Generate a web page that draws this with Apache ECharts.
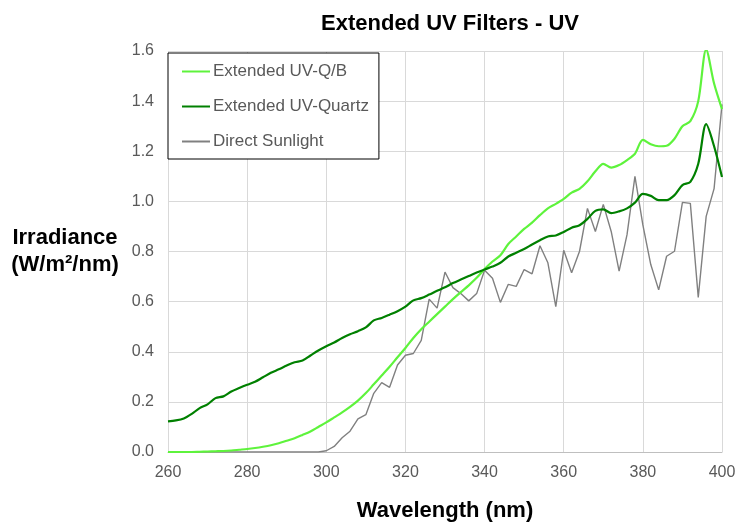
<!DOCTYPE html>
<html>
<head>
<meta charset="utf-8">
<script src="https://cdn.jsdelivr.net/npm/echarts@6/dist/echarts.min.js"></script>
<style>
html,body{margin:0;padding:0;background:#fff;}
#chart{width:741px;height:527px;}
</style>
</head>
<body>
<div id="chart"></div>
<script>
const wavelengths = [260,262,264,266,268,270,272,274,276,278,280,282,284,286,288,290,292,294,296,298,
  300,302,304,306,308,310,312,314,316,318,320,322,324,326,328,330,332,334,336,338,
  340,342,344,346,348,350,352,354,356,358,360,362,364,366,368,370,372,374,376,378,
  380,382,384,386,388,390,392,394,396,398,400];

const uvQB = [0.000,0.000,0.000,0.000,0.001,0.002,0.003,0.004,0.006,0.009,
  0.012,0.016,0.021,0.027,0.035,0.045,0.055,0.068,0.082,0.100,
  0.118,0.138,0.158,0.180,0.205,0.235,0.270,0.305,0.340,0.378,
  0.415,0.455,0.490,0.520,0.550,0.580,0.610,0.638,0.665,0.695,
  0.730,0.760,0.785,0.830,0.860,0.890,0.915,0.945,0.972,0.990,
  1.010,1.035,1.050,1.080,1.120,1.150,1.135,1.145,1.165,1.190,
  1.245,1.228,1.220,1.222,1.250,1.300,1.320,1.400,1.605,1.470,1.368];

const uvQuartz = [0.122,0.126,0.134,0.152,0.175,0.190,0.215,0.222,0.241,0.255,
  0.268,0.280,0.298,0.316,0.330,0.345,0.358,0.365,0.385,0.405,
  0.422,0.437,0.455,0.470,0.482,0.497,0.525,0.535,0.548,0.562,
  0.580,0.605,0.614,0.628,0.643,0.657,0.674,0.688,0.702,0.716,
  0.728,0.740,0.755,0.780,0.795,0.810,0.828,0.845,0.860,0.864,
  0.878,0.895,0.905,0.930,0.962,0.968,0.953,0.960,0.972,0.995,
  1.030,1.022,1.005,1.005,1.025,1.065,1.078,1.150,1.308,1.220,1.097];

const sunlight = [0,0,0,0,0,0,0,0,0,0,
  0,0,0,0,0,0,0,0,0,0,
  0.005,0.022,0.057,0.083,0.132,0.149,0.234,0.277,0.258,0.347,
  0.386,0.393,0.445,0.610,0.574,0.718,0.656,0.632,0.603,0.632,
  0.725,0.693,0.597,0.669,0.661,0.728,0.711,0.823,0.755,0.580,
  0.805,0.715,0.801,0.972,0.880,0.988,0.880,0.722,0.867,1.100,
  0.906,0.748,0.647,0.781,0.801,0.996,0.992,0.617,0.940,1.051,1.387];

const xTicks = [260,280,300,320,340,360,380,400];
const yTicks = [0.0,0.2,0.4,0.6,0.8,1.0,1.2,1.4,1.6];

function pairs(vals){ return wavelengths.map((w,i)=>[w, vals[i]]); }

const FONT = '"Liberation Sans", Arial, sans-serif';
const chart = echarts.init(document.getElementById('chart'), null, {renderer:'canvas'});
chart.setOption({
  animation:false,
  backgroundColor:'#ffffff',
  textStyle:{fontFamily:FONT},
  title:{
    text:'Extended UV Filters - UV',
    left:445, top:8, textAlign:'center',
    textStyle:{fontFamily:FONT, fontSize:22, fontWeight:'bold', color:'#000'}
  },
  grid:{left:168, right:19, top:51, bottom:71, containLabel:false},
  legend:{
    orient:'vertical', left:168, top:53,
    backgroundColor:'#fff',
    borderColor:'#000', borderWidth:1, borderRadius:0,
    padding:[10,10,9,14],
    itemGap:18, itemWidth:28, itemHeight:2, icon:'rect',
    textStyle:{fontFamily:FONT, fontSize:17, color:'#595959', padding:[0,0,0,-2]},
    data:['Extended UV-Q/B','Extended UV-Quartz','Direct Sunlight']
  },
  xAxis:{
    type:'value', min:260, max:400, interval:20,
    name:'Wavelength (nm)', nameLocation:'middle', nameGap:48,
    nameTextStyle:{fontFamily:FONT, fontSize:22, fontWeight:'bold', color:'#000'},
    axisLine:{show:true, lineStyle:{color:'#bfbfbf'}},
    axisTick:{show:false},
    axisLabel:{fontFamily:FONT, fontSize:16, color:'#595959', margin:13,
      formatter:v=> xTicks.indexOf(v)>=0 ? String(v) : ''},
    splitLine:{show:true, lineStyle:{color:'#d9d9d9', width:1}}
  },
  yAxis:{
    type:'value', min:0, max:1.6, interval:0.2,
    name:'Irradiance\n(W/m²/nm)', nameLocation:'middle', nameRotate:0, nameGap:103,
    nameTextStyle:{fontFamily:FONT, fontSize:22, fontWeight:'bold', color:'#000', align:'center', lineHeight:27},
    axisLine:{show:false},
    axisTick:{show:false},
    axisLabel:{fontFamily:FONT, fontSize:16, color:'#595959', margin:14,
      formatter:v=>{ const t = yTicks.find(y=>Math.abs(y-v)<1e-6); return t===undefined ? '' : t.toFixed(1); }},
    splitLine:{show:true, lineStyle:{color:'#d9d9d9', width:1}}
  },
  series:[
    {name:'Extended UV-Q/B', type:'line', data:pairs(uvQB), symbol:'none', smooth:0.3,
      lineStyle:{color:'#5ef33c', width:2.2}, itemStyle:{color:'#5ef33c'}, z:3},
    {name:'Extended UV-Quartz', type:'line', data:pairs(uvQuartz), symbol:'none', smooth:0.3,
      lineStyle:{color:'#008000', width:2.2}, itemStyle:{color:'#008000'}, z:4},
    {name:'Direct Sunlight', type:'line', data:pairs(sunlight), symbol:'none',
      lineStyle:{color:'#808080', width:1.4}, itemStyle:{color:'#808080'}, z:2}
  ]
});
</script>
</body>
</html>
